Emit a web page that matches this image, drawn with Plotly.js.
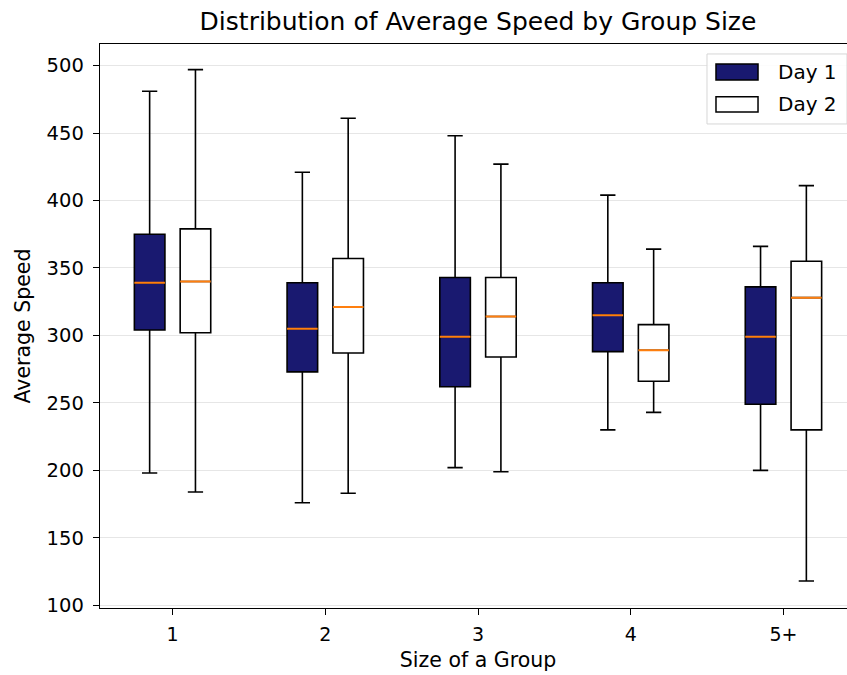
<!DOCTYPE html>
<html>
<head>
<meta charset="utf-8">
<script src="https://cdn.plot.ly/plotly-3.0.1.min.js"></script>
<style>
html, body { margin: 0; padding: 0; overflow: hidden; background: #fff; }
#chart { width: 870px; height: 675px; }
</style>
</head>
<body>
<div id="chart"></div>
<script>
const groups = ["1", "2", "3", "4", "5+"];
const seriesNames = ["Day 1", "Day 2"];
const seriesFills = ["#191970", "#ffffff"];

const day1Upper  = [481, 421, 448, 404, 366];
const day1Q3     = [375, 339, 343, 339, 336];
const day1Median = [339, 305, 299, 315, 299];
const day1Q1     = [304, 273, 262, 288, 249];
const day1Lower  = [198, 176, 202, 230, 200];

const day2Upper  = [497, 461, 427, 364, 411];
const day2Q3     = [379, 357, 343, 308, 355];
const day2Median = [340, 321, 314, 289, 328];
const day2Q1     = [302, 287, 284, 266, 230];
const day2Lower  = [184, 183, 199, 243, 118];

const font = "DejaVu Sans, sans-serif";

function boxTrace(name, q1, med, q3, lo, hi, fill, group) {
  return {
    type: "box", name: name, x: groups,
    q1: q1, median: med, q3: q3, lowerfence: lo, upperfence: hi,
    fillcolor: fill, line: {color: "black", width: 1.6},
    whiskerwidth: 0.5, boxpoints: false,
    offsetgroup: group, alignmentgroup: "all",
    showlegend: false, hoverinfo: "skip"
  };
}
function medianTrace(med, group) {
  return {
    type: "box", name: "median " + group, x: groups,
    q1: med, median: med, q3: med, lowerfence: med, upperfence: med,
    fillcolor: "rgba(0,0,0,0)", line: {color: "#ff7f0e", width: 2},
    whiskerwidth: 0, boxpoints: false,
    offsetgroup: group, alignmentgroup: "all",
    showlegend: false, hoverinfo: "skip"
  };
}

const data = [
  boxTrace(seriesNames[0], day1Q1, day1Median, day1Q3, day1Lower, day1Upper, seriesFills[0], "d1"),
  boxTrace(seriesNames[1], day2Q1, day2Median, day2Q3, day2Lower, day2Upper, seriesFills[1], "d2"),
  medianTrace(day1Median, "d1"),
  medianTrace(day2Median, "d2")
];

// legend drawn in paper coordinates (matplotlib-style wide patches)
const legendShapes = [
  {type: "rect", xref: "paper", yref: "paper", x0: 0.8029, x1: 0.9881, y0: 0.8582, y1: 0.9823,
   line: {color: "#d6d6d6", width: 1}, fillcolor: "rgba(255,255,255,0.85)", layer: "above"},
  {type: "rect", xref: "paper", yref: "paper", x0: 0.8148, x1: 0.8704, y0: 0.9362, y1: 0.9645,
   line: {color: "black", width: 1.5}, fillcolor: seriesFills[0], layer: "above"},
  {type: "rect", xref: "paper", yref: "paper", x0: 0.8148, x1: 0.8704, y0: 0.8794, y1: 0.9066,
   line: {color: "black", width: 1.5}, fillcolor: seriesFills[1], layer: "above"}
];
const legendTexts = [
  {xref: "paper", yref: "paper", x: 0.8942, y: 0.9504, xanchor: "left", yanchor: "middle",
   text: seriesNames[0], showarrow: false, font: {family: font, size: 20, color: "black"}},
  {xref: "paper", yref: "paper", x: 0.8942, y: 0.8928, xanchor: "left", yanchor: "middle",
   text: seriesNames[1], showarrow: false, font: {family: font, size: 20, color: "black"}}
];

const layout = {
  width: 870, height: 675,
  margin: {l: 100, r: 14, t: 44, b: 67},
  paper_bgcolor: "white", plot_bgcolor: "white",
  font: {family: font, size: 19, color: "black"},
  title: {text: "Distribution of Average Speed by Group Size", font: {family: font, size: 25, color: "black"},
          x: 0.5, xref: "paper", xanchor: "center", y: 0.969, yref: "container", yanchor: "middle"},
  boxmode: "group", boxgap: 0.4, boxgroupgap: 0.333,
  xaxis: {
    type: "category", range: [-0.475, 4.475],
    showline: true, mirror: true, linecolor: "black", linewidth: 1.3,
    ticks: "outside", ticklen: 6, tickcolor: "black", showgrid: false, zeroline: false,
    ticklabelstandoff: 3,
    tickfont: {family: font, size: 19},
    title: {text: "Size of a Group", font: {family: font, size: 20.5}, standoff: 8}
  },
  yaxis: {
    range: [98, 516], tickvals: [100,150,200,250,300,350,400,450,500],
    showline: true, mirror: true, linecolor: "black", linewidth: 1.3,
    ticks: "outside", ticklen: 6, tickcolor: "black",
    ticklabelstandoff: 5,
    showgrid: true, gridcolor: "#e6e6e6", gridwidth: 1, zeroline: false,
    tickfont: {family: font, size: 19.5},
    title: {text: "Average Speed", font: {family: font, size: 20.5}, standoff: 10}
  },
  shapes: legendShapes,
  annotations: legendTexts,
  showlegend: false
};

Plotly.newPlot("chart", data, layout, {displayModeBar: false, staticPlot: true});
</script>
</body>
</html>
